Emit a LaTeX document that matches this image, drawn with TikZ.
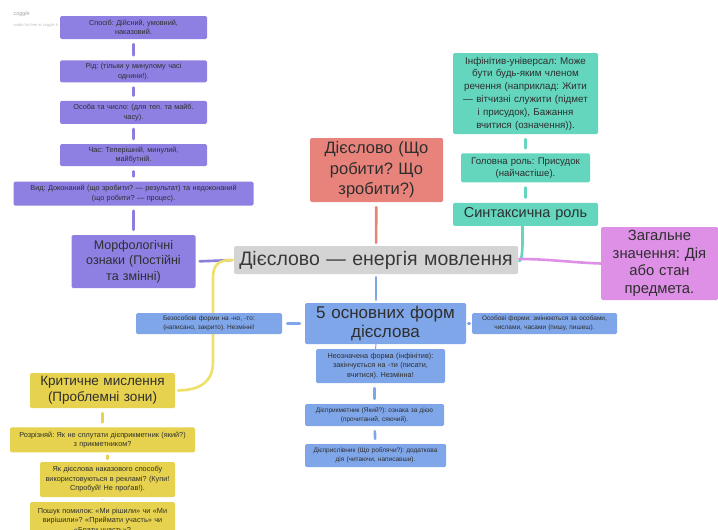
\documentclass[tikz,border=0pt]{standalone}
\usepackage{fontspec}
\setmainfont{Liberation Sans}
\frenchspacing
\usetikzlibrary{positioning, backgrounds}

\definecolor{purpfill}{HTML}{8E80E2}
\definecolor{purpline}{HTML}{8A7FDF}
\definecolor{hubfill}{HTML}{D4D4D4}
\definecolor{redfill}{HTML}{E8837C}
\definecolor{tealfill}{HTML}{63D6BD}
\definecolor{magfill}{HTML}{DE90E7}
\definecolor{bluefill}{HTML}{7FA6E8}
\definecolor{yelfill}{HTML}{E6D24E}
\definecolor{yelline}{HTML}{F0E068}
\definecolor{inktext}{HTML}{2E2E2E}

\tikzset{%
  box/.style={rectangle, rounded corners=1.5pt, align=center, inner xsep=3pt,
    inner ysep=1pt, text=inktext}, % every box of the map
  small/.style={font=\fontsize{7.3}{9.5}\selectfont},
  tiny/.style={font=\fontsize{6.5}{8.6}\selectfont},
  purpbox/.style={box, fill=purpfill},
  bluebox/.style={box, fill=bluefill},
  tealbox/.style={box, fill=tealfill},
  yelbox/.style={box, fill=yelfill},
  link/.style={line width=2.6pt, line cap=round, shorten >=5pt, shorten <=5pt}
}

\begin{document}
\begin{tikzpicture}[x=1pt, y=-1pt]
  \clip (0,0) rectangle (718,530);

  % watermark
  \node[anchor=west, text=black!35, font=\fontsize{5.5}{6}\itshape] (wm) at (10,14) {coggle};
  \node[anchor=west, text=black!25, font=\fontsize{4}{5}\selectfont] (wm2) at (10,25) {made for free at coggle.it};

  % centre
  \node[box, fill=hubfill, text=black!78, text width=278pt, minimum height=28pt,
    font=\fontsize{19.5}{22}\selectfont] (hub) at (376,260) {Дієслово — енергія мовлення};

  % morphology column
  \node[purpbox, small, text width=141pt, minimum height=23pt] (sposib) at (133.5,27.5)
    {Спосіб: Дійсний, умовний,\\ наказовий.};
  \node[purpbox, small, text width=141pt, minimum height=22pt, below=21pt of sposib] (rid)
    {Рід: (тільки у минулому часі\\ однини!).};
  \node[purpbox, small, text width=141pt, minimum height=23pt, below=18pt of rid] (osoba)
    {Особа та число: (для теп. та майб.\\ часу).};
  \node[purpbox, small, text width=141pt, minimum height=22pt, below=20pt of osoba] (chas)
    {Час: Теперішній, минулий,\\ майбутній.};
  \node[purpbox, small, text width=234pt, minimum height=24pt, below=15pt of chas] (vid)
    {Вид: Доконаний (що зробити? — результат) та недоконаний\\ (що робити? — процес).};
  \node[purpbox, text width=118pt, minimum height=53pt, below=29pt of vid,
    font=\fontsize{12.5}{15.5}\selectfont] (morph)
    {Морфологічні\\ ознаки (Постійні\\ та змінні)};

  % question
  \node[box, fill=redfill, text width=127pt, minimum height=64pt,
    font=\fontsize{16.5}{20.5}\selectfont] (quest) at (376.5,170)
    {Дієслово (Що\\ робити? Що\\ зробити?)};

  % syntax column
  \node[tealbox, text width=139pt, minimum height=81pt,
    font=\fontsize{9.8}{12.8}\selectfont] (univ) at (525.5,93.5)
    {Інфінітив-універсал: Може\\ бути будь-яким членом\\ речення (наприклад: Жити\\
     — вітчизні служити (підмет\\ і присудок), Бажання\\ вчитися (означення)).};
  \node[tealbox, text width=123pt, minimum height=29pt, below=19pt of univ,
    font=\fontsize{9.6}{12}\selectfont] (role)
    {Головна роль: Присудок\\ (найчастіше).};
  \node[tealbox, text width=139pt, minimum height=23pt, below=20pt of role,
    font=\fontsize{14.5}{17}\selectfont] (syntax) {Синтаксична роль};

  % meaning
  \node[box, fill=magfill, text width=111pt, minimum height=73pt,
    font=\fontsize{14.8}{17.5}\selectfont] (mean) at (659.5,263.5)
    {Загальне\\ значення: Дія\\ або стан\\ предмета.};

  % forms
  \node[bluebox, text width=155pt, minimum height=41pt,
    font=\fontsize{17}{19.5}\selectfont] (forms) at (385.5,323.5)
    {5 основних форм\\ дієслова};
  \node[bluebox, tiny, text width=140pt, minimum height=21pt] (impers) at (209,323.5)
    {Безособові форми на -но, -то:\\ (написано, закрито). Незмінні!};
  \node[bluebox, tiny, text width=139pt, minimum height=21pt] (pers) at (544.5,323.5)
    {Особові форми: змінюються за особами,\\ числами, часами (пишу, пишеш).};
  \node[bluebox, small, text width=123pt, minimum height=34pt] (infin) at (380.5,366)
    {Неозначена форма (інфінітив):\\ закінчується на -ти (писати,\\ вчитися). Незмінна!};
  \node[bluebox, tiny, text width=133pt, minimum height=22pt] (prykm) at (374.5,415)
    {Дієприкметник (Який?): ознака за дією\\ (прочитаний, сяючий).};
  \node[bluebox, tiny, text width=135pt, minimum height=23pt] (prysl) at (375.5,455.5)
    {Дієприслівник (Що роблячи?): додаткова\\ дія (читаючи, написавши).};

  % critical thinking
  \node[yelbox, text width=139pt, minimum height=35pt,
    font=\fontsize{13.5}{16.5}\selectfont] (crit) at (102.5,390.5)
    {Критичне мислення\\ (Проблемні зони)};
  \node[yelbox, small, text width=179pt, minimum height=25pt, below=19pt of crit] (rozr)
    {Розрізняй: Як не сплутати дієприкметник (який?)\\ з прикметником?};
  \node[yelbox, small, text width=129pt, minimum height=35pt] (advert) at (107.5,479.5)
    {Як дієслова наказового способу\\ використовуються в рекламі? (Купи!\\ Спробуй! Не проґав!).};
  \node[yelbox, small, text width=139pt, minimum height=37pt, anchor=north] (errors) at (102.5,502)
    {Пошук помилок: «Ми рішили» чи «Ми\\ вирішили»? «Приймати участь» чи\\ «Брати участь»?};

  \begin{pgfonlayer}{background}
    \fill[white] (0,0) rectangle (718,530);
    \foreach \a/\b in {sposib/rid, rid/osoba, osoba/chas, chas/vid, vid/morph}
      \draw[link, purpline] (\a) -- (\b);
    \draw[link, purpline, shorten <=4pt, shorten >=2pt] (morph.east) -- (hub.west);
    \draw[link, redfill, shorten >=3pt] (quest) -- (hub);
    \draw[link, tealfill] (univ) -- (role);
    \draw[link, tealfill] (role) -- (syntax);
    \draw[line width=2.6pt, line cap=round, tealfill] ([xshift=-3pt,yshift=5pt]syntax.south)
      -- ++(0,22) .. controls +(0,4) and +(3,0) .. ([xshift=1pt,yshift=-1pt]hub.east);
    \draw[line width=2.6pt, line cap=round, magfill] ([xshift=1pt,yshift=1pt]hub.east)
      .. controls +(30,0) and +(-30,-1) .. (mean.west);
    \draw[link, bluefill, shorten <=3pt, shorten >=3pt] (hub.south) -- (hub.south |- forms.north);
    \draw[link, bluefill] (forms) -- (impers);
    \draw[link, bluefill, shorten <=2pt, shorten >=2pt] (forms) -- (pers);
    \draw[bluefill, line width=1pt, line cap=round] ([xshift=-9.5pt]forms.south) -- ([xshift=-5pt]infin.north);
    \draw[link, bluefill] (infin.south -| prykm) -- (prykm);
    \draw[link, bluefill] (prykm) -- (prysl);
    \draw[line width=2.6pt, line cap=round, yelline] ([xshift=-1pt]hub.west)
      .. controls +(-14,0) and +(0,-14) .. (213,278) -- (213,362)
      .. controls (213,382) and (200,390) .. ([xshift=3pt]crit.east);
    \draw[link, yelfill] (crit) -- (rozr);
    \draw[link, yelfill, shorten <=3pt, shorten >=3pt] (rozr.south -| advert) -- (advert);
    \draw[yelfill, line width=1.5pt, shorten <=2pt, shorten >=2pt] (advert.south -| errors) -- (errors);
  \end{pgfonlayer}
\end{tikzpicture}
\end{document}
